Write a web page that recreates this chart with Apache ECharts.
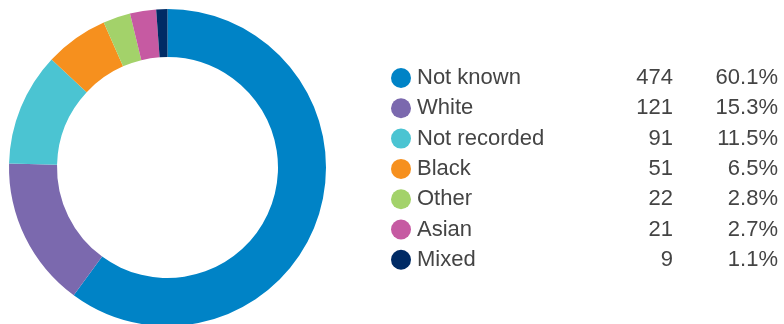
<!DOCTYPE html>
<html>
<head>
<meta charset="utf-8">
<script src="https://cdn.jsdelivr.net/npm/echarts@6/dist/echarts.min.js"></script>
<style>html,body{margin:0;padding:0;background:#fff;}#c{width:784px;height:324px;}</style>
</head>
<body>
<div id="c"></div>
<script>
var categories = ['Not known', 'White', 'Not recorded', 'Black', 'Other', 'Asian', 'Mixed'];
var values = [474, 121, 91, 51, 22, 21, 9];
var percentLabels = ['60.1%', '15.3%', '11.5%', '6.5%', '2.8%', '2.7%', '1.1%'];
var colors = ['#0083c6', '#7b69ae', '#4bc4d2', '#f6901e', '#a3d26a', '#c65aa2', '#002b65'];

var chart = echarts.init(document.getElementById('c'), null, {renderer: 'canvas'});
var fontFam = '"Liberation Sans", Arial, Helvetica, sans-serif';
var txt = {fontSize: 22, lineHeight: 20, color: '#444444', fontFamily: fontFam};
chart.setOption({
  animation: false,
  color: colors,
  legend: {
    orient: 'vertical',
    left: 386,
    top: 62,
    itemWidth: 20,
    itemHeight: 20,
    itemGap: 8.3,
    icon: 'circle',
    selectedMode: false,
    data: categories,
    formatter: function (name) {
      var i = categories.indexOf(name);
      return '{n|' + name + '}{v|' + values[i] + '}{p|' + percentLabels[i] + '}';
    },
    textStyle: {
      lineHeight: 20,
      padding: [0, 0, 0, 1],
      rich: {
        n: Object.assign({width: 200, align: 'left'}, txt),
        v: Object.assign({width: 56, align: 'right'}, txt),
        p: Object.assign({width: 105, align: 'right'}, txt)
      }
    }
  },
  series: [{
    type: 'pie',
    center: [167.5, 167.5],
    radius: [110.5, 158.5],
    startAngle: 90,
    clockwise: true,
    label: {show: false},
    labelLine: {show: false},
    emphasis: {disabled: true},
    itemStyle: {borderWidth: 0},
    data: categories.map(function (c, i) { return {name: c, value: values[i]}; })
  }]
});
</script>
</body>
</html>
